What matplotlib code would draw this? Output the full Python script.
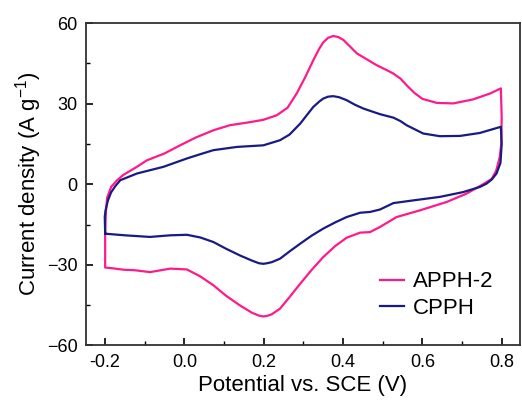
import matplotlib.pyplot as plt
from matplotlib.ticker import MultipleLocator

plt.rcParams['font.family'] = ['Liberation Sans', 'DejaVu Sans']

# CV loops at 0.8 V window, anodic sweep then cathodic sweep (V, A/g)
apph_v = [-0.200, -0.198, -0.195, -0.185, -0.170, -0.154, -0.120, -0.095, -0.050, -0.011,
          0.030, 0.073, 0.115, 0.160, 0.199, 0.233, 0.260, 0.283, 0.305, 0.325,
          0.340, 0.350, 0.362, 0.375, 0.388, 0.401, 0.418, 0.435, 0.460, 0.485, 0.510, 0.527,
          0.545, 0.560, 0.580, 0.600, 0.636, 0.678, 0.728, 0.771, 0.798,
          0.800, 0.799, 0.795, 0.786, 0.775, 0.753, 0.711, 0.661, 0.594, 0.535,
          0.493, 0.468, 0.443, 0.409, 0.380, 0.350, 0.320, 0.292, 0.265, 0.241,
          0.220, 0.208, 0.199, 0.188, 0.170, 0.140, 0.105, 0.073, 0.040, 0.006, -0.036, -0.087,
          -0.125, -0.154, -0.185, -0.200, -0.200]
apph_i = [-18.0, -10.0, -5.0, -1.0, 1.5, 3.5, 6.5, 8.9, 11.5, 14.5,
          17.5, 20.1, 22.0, 23.0, 24.0, 25.7, 28.5, 33.8, 40.0, 46.2,
          50.5, 52.8, 54.5, 55.2, 54.8, 53.7, 51.2, 48.7, 46.5, 44.3, 42.5, 41.2,
          39.3, 36.9, 34.0, 31.8, 30.3, 30.1, 31.6, 33.8, 35.7,
          25.0, 15.0, 10.0, 5.0, 2.0, 0.0, -3.5, -6.6, -9.7, -12.2,
          -15.9, -17.8, -18.0, -19.9, -23.0, -27.1, -32.0, -37.0, -42.0, -46.3,
          -48.4, -49.0, -49.2, -48.9, -47.8, -45.1, -41.5, -37.6, -34.3, -31.7, -31.4, -32.7,
          -32.0, -31.8, -31.2, -31.0, -18.0]

cpph_v = [-0.200, -0.201, -0.199, -0.193, -0.185, -0.175, -0.162, -0.120, -0.053, 0.006,
          0.040, 0.073, 0.132, 0.199, 0.241, 0.265, 0.292, 0.310, 0.325, 0.340, 0.350,
          0.362, 0.375, 0.390, 0.409, 0.430, 0.451, 0.493, 0.527, 0.545, 0.560, 0.602, 0.644,
          0.695, 0.745, 0.798,
          0.800, 0.797, 0.787, 0.775, 0.762, 0.745, 0.703, 0.644, 0.577, 0.527,
          0.493, 0.468, 0.443, 0.409, 0.380, 0.350, 0.320, 0.292, 0.265, 0.241,
          0.220, 0.208, 0.199, 0.188, 0.170, 0.140, 0.105, 0.073, 0.040, 0.006, -0.036, -0.087,
          -0.150, -0.200]
cpph_i = [-18.4, -12.0, -9.7, -6.0, -3.0, -0.8, 1.5, 4.0, 6.5, 9.6,
          11.2, 12.7, 13.9, 14.5, 16.4, 18.5, 22.6, 26.0, 28.8, 30.8, 31.9,
          32.6, 32.8, 32.4, 31.3, 29.6, 28.2, 26.1, 24.8, 23.5, 22.0, 18.9, 17.9,
          18.0, 19.1, 21.4,
          15.0, 8.0, 4.0, 1.8, 0.25, -1.0, -2.9, -4.7, -6.0, -7.0,
          -9.4, -10.3, -10.6, -12.2, -14.2, -16.5, -19.2, -22.1, -25.0, -27.7,
          -29.0, -29.4, -29.6, -29.4, -28.4, -26.5, -24.0, -21.5, -19.8, -18.8, -19.0, -19.6,
          -19.0, -18.4]

fig, ax = plt.subplots(figsize=(5.22, 4.05), dpi=100)
fig.subplots_adjust(left=0.165, right=0.996, top=0.943, bottom=0.147)

ax.plot(apph_v, apph_i, color='#ff1a8c', lw=1.6, label='APPH-2')
ax.plot(cpph_v, cpph_i, color='#1a1a85', lw=1.6, label='CPPH')

ax.set_xlim(-0.248, 0.846)
ax.set_ylim(-60, 60)
ax.xaxis.set_minor_locator(MultipleLocator(0.1))
ax.yaxis.set_major_locator(MultipleLocator(30))
ax.yaxis.set_minor_locator(MultipleLocator(15))
ax.set_xticks([-0.2, 0.0, 0.2, 0.4, 0.6, 0.8])
ax.set_xticklabels(['-0.2', '0.0', '0.2', '0.4', '0.6', '0.8'])
ax.tick_params(which='major', direction='in', length=5, width=1.2, labelsize=13, pad=6)
ax.tick_params(which='minor', direction='in', length=3, width=1.0)
for sp in ax.spines.values():
    sp.set_linewidth(1.3)
    sp.set_color('#333333')

ax.set_xlabel('Potential vs. SCE (V)', fontsize=16, labelpad=3)
ax.set_ylabel('Current density (A g$^{\\mathregular{-1}}$)', fontsize=16, labelpad=2)

ax.legend(loc='lower right', bbox_to_anchor=(0.985, 0.02), frameon=False, fontsize=16,
          handlelength=1.1, handletextpad=0.4, labelspacing=0.25)

plt.savefig('out.png')
